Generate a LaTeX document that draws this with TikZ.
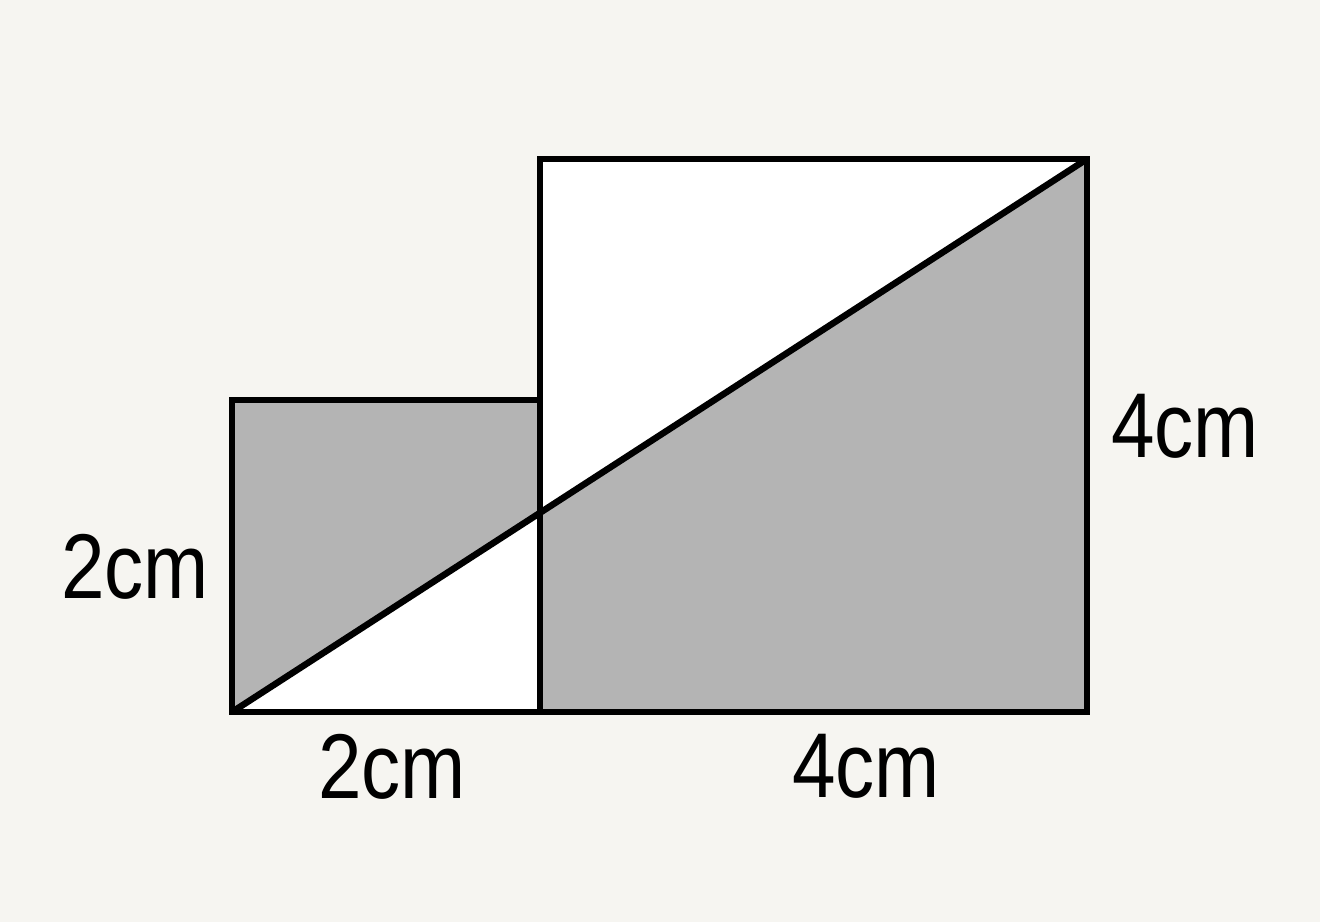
\documentclass[tikz,border=0pt]{standalone}
\usepackage{fontspec}
\newfontfamily\labfont[FakeStretch=0.85]{Liberation Sans}
\definecolor{bgc}{HTML}{F6F5F1}
\definecolor{grayfill}{HTML}{B4B4B4}
\tikzset{
  edge/.style={line width=6.5pt, line join=miter, line cap=rect},
  lab/.style={font=\labfont\fontsize{92}{100}\selectfont, inner sep=0pt, anchor=base}
}
\begin{document}
\begin{tikzpicture}[x=1pt,y=-1pt]
\fill[bgc] (0,0) rectangle (1320,922);
\useasboundingbox (0,0) rectangle (1320,922);
% corners
\coordinate (A) at (232,712);
\coordinate (B) at (232,400);
\coordinate (C) at (540,400);
\coordinate (D) at (540,712);
\coordinate (E) at (540,159);
\coordinate (F) at (1087,159);
\coordinate (G) at (1087,712);
\coordinate (X) at (540,512.8);
% fills
\fill[white] (B) rectangle (D);
\fill[white] (E) rectangle (G);
\fill[grayfill] (A) -- (B) -- (C) -- (X) -- cycle;
\fill[grayfill] (X) -- (F) -- (G) -- (D) -- cycle;
% outlines
\draw[edge] (A) -- (B) -- (C) -- (D);
\draw[edge] (D) -- (E) -- (F) -- (G) -- cycle;
\draw[edge] (A) -- (D);
\draw[edge, line cap=butt] (A) -- (F);
% labels
\node[lab] (l1) at (135,598) {2cm};
\node[lab] (l2) at (392,798) {2cm};
\node[lab] (l3) at (866,797) {4cm};
\node[lab] (l4) at (1185,457) {4cm};
\end{tikzpicture}
\end{document}
